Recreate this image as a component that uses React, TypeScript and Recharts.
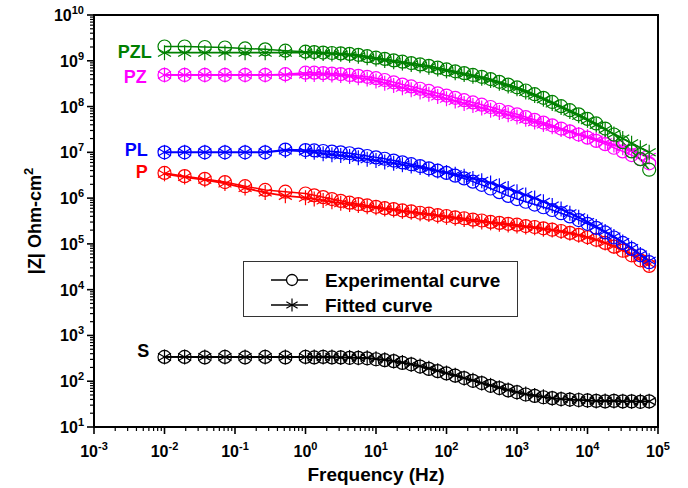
import { ComposedChart, Line, XAxis, YAxis, ReferenceArea, ReferenceDot, Legend } from 'recharts';

const FONT = '"Liberation Sans", Arial, Helvetica, sans-serif';

// measured frequencies (Hz)
const freq = [
  0.01, 0.0193, 0.0373, 0.072, 0.139, 0.268, 0.518,
  1, 1.33, 1.78, 2.37, 3.16, 4.22, 5.62, 7.5,
  10, 13.3, 17.8, 23.7, 31.6, 42.2, 56.2, 75,
  100, 133, 178, 237, 316, 422, 562, 750,
  1000, 1330, 1780, 2370, 3160, 4220, 5620, 7500,
  10000, 13300, 17800, 23700, 31600, 42200, 56200, 75000,
];

// |Z| (Ohm-cm2), experimental (circles) and fitted (asterisks)
const pzlExp = [
  2.05e9, 2.05e9, 2.0e9, 1.95e9, 1.86e9, 1.78e9, 1.66e9,
  1.58e9, 1.55e9, 1.51e9, 1.48e9, 1.45e9, 1.41e9, 1.35e9, 1.26e9,
  1.17e9, 1.1e9, 1.02e9, 9.55e8, 8.91e8, 8.32e8, 7.76e8, 7.08e8,
  6.46e8, 5.89e8, 5.37e8, 4.9e8, 4.47e8, 3.98e8, 3.47e8, 3.02e8,
  2.63e8, 2.24e8, 1.86e8, 1.55e8, 1.26e8, 1.02e8, 8.32e7, 6.76e7,
  5.37e7, 4.27e7, 3.31e7, 2.45e7, 1.66e7, 1.05e7, 7.08e6, 4.17e6,
];
const pzlFit = [
  1.5e9, 1.5e9, 1.5e9, 1.5e9, 1.5e9, 1.5e9, 1.5e9,
  1.5e9, 1.48e9, 1.45e9, 1.41e9, 1.38e9, 1.32e9, 1.26e9, 1.17e9,
  1.1e9, 1.02e9, 9.55e8, 8.91e8, 8.32e8, 7.76e8, 7.24e8, 6.61e8,
  6.03e8, 5.5e8, 5.01e8, 4.57e8, 4.17e8, 3.72e8, 3.24e8, 2.82e8,
  2.45e8, 2.09e8, 1.74e8, 1.45e8, 1.17e8, 9.55e7, 7.76e7, 6.31e7,
  5.01e7, 3.98e7, 3.16e7, 2.51e7, 2.0e7, 1.58e7, 1.26e7, 1.0e7,
];
const pzExp = [
  4.9e8, 4.9e8, 4.9e8, 4.9e8, 4.9e8, 4.9e8, 5.1e8,
  5.5e8, 5.5e8, 5.37e8, 5.25e8, 5.13e8, 4.9e8, 4.68e8, 4.47e8,
  4.17e8, 3.8e8, 3.39e8, 3.02e8, 2.75e8, 2.45e8, 2.19e8, 1.95e8,
  1.74e8, 1.55e8, 1.38e8, 1.23e8, 1.1e8, 9.77e7, 8.51e7, 7.59e7,
  6.76e7, 5.89e7, 5.13e7, 4.47e7, 3.89e7, 3.31e7, 2.88e7, 2.45e7,
  2.09e7, 1.78e7, 1.51e7, 1.26e7, 1.05e7, 8.71e6, 7.08e6, 5.75e6,
];
const pzFit = [
  4.9e8, 4.9e8, 4.9e8, 4.9e8, 4.9e8, 4.9e8, 4.9e8,
  5.01e8, 5.01e8, 5.01e8, 4.9e8, 4.79e8, 4.57e8, 4.27e8, 3.98e8,
  3.63e8, 3.24e8, 2.88e8, 2.57e8, 2.34e8, 2.09e8, 1.86e8, 1.66e8,
  1.48e8, 1.32e8, 1.17e8, 1.05e8, 9.33e7, 8.32e7, 7.41e7, 6.61e7,
  5.89e7, 5.25e7, 4.57e7, 4.07e7, 3.63e7, 3.16e7, 2.82e7, 2.45e7,
  2.19e7, 1.91e7, 1.66e7, 1.45e7, 1.26e7, 1.1e7, 9.33e6, 7.94e6,
];
const plExp = [
  1.0e7, 1.0e7, 1.0e7, 1.0e7, 1.0e7, 1.0e7, 1.15e7,
  1.12e7, 1.1e7, 1.07e7, 1.04e7, 1.0e7, 9.55e6, 8.91e6, 8.32e6,
  7.76e6, 7.24e6, 6.61e6, 6.03e6, 5.5e6, 5.01e6, 4.47e6, 3.98e6,
  3.55e6, 3.09e6, 2.69e6, 2.29e6, 1.95e6, 1.62e6, 1.35e6, 1.12e6,
  9.55e5, 8.32e5, 7.24e5, 6.31e5, 5.5e5, 4.68e5, 3.98e5, 3.31e5,
  2.75e5, 2.24e5, 1.78e5, 1.38e5, 1.05e5, 7.76e4, 5.62e4, 3.98e4,
];
const plFit = [
  1.0e7, 1.0e7, 1.0e7, 1.0e7, 1.0e7, 1.0e7, 1.1e7,
  1.05e7, 1.0e7, 9.33e6, 8.91e6, 8.51e6, 8.13e6, 7.59e6, 7.08e6,
  6.61e6, 6.17e6, 5.75e6, 5.37e6, 5.01e6, 4.68e6, 4.27e6, 3.89e6,
  3.63e6, 3.31e6, 3.02e6, 2.69e6, 2.4e6, 2.14e6, 1.86e6, 1.62e6,
  1.38e6, 1.17e6, 1.0e6, 8.32e5, 6.92e5, 5.75e5, 4.68e5, 3.8e5,
  3.02e5, 2.4e5, 1.86e5, 1.45e5, 1.1e5, 8.13e4, 5.89e4, 4.27e4,
];
const pExp = [
  3.55e6, 3.02e6, 2.63e6, 2.24e6, 1.82e6, 1.51e6, 1.38e6,
  1.26e6, 1.15e6, 1.05e6, 9.55e5, 8.71e5, 7.94e5, 7.41e5, 6.92e5,
  6.46e5, 6.03e5, 5.75e5, 5.37e5, 5.13e5, 4.79e5, 4.57e5, 4.27e5,
  4.07e5, 3.8e5, 3.63e5, 3.39e5, 3.24e5, 3.02e5, 2.88e5, 2.75e5,
  2.63e5, 2.45e5, 2.34e5, 2.19e5, 2.04e5, 1.91e5, 1.74e5, 1.58e5,
  1.41e5, 1.23e5, 1.05e5, 8.71e4, 7.08e4, 5.62e4, 4.37e4, 3.31e4,
];
const pFit = [
  3.39e6, 2.88e6, 2.51e6, 2.09e6, 1.66e6, 1.32e6, 1.12e6,
  1.02e6, 9.55e5, 8.91e5, 8.32e5, 7.76e5, 7.24e5, 6.92e5, 6.46e5,
  6.17e5, 5.75e5, 5.5e5, 5.13e5, 4.9e5, 4.57e5, 4.37e5, 4.07e5,
  3.8e5, 3.63e5, 3.39e5, 3.16e5, 3.02e5, 2.88e5, 2.69e5, 2.57e5,
  2.45e5, 2.34e5, 2.24e5, 2.09e5, 2.0e5, 1.86e5, 1.7e5, 1.55e5,
  1.38e5, 1.23e5, 1.05e5, 8.91e4, 7.41e4, 6.03e4, 4.79e4, 3.63e4,
];
const sExp = [
  339, 339, 331, 339, 331, 339, 331,
  339, 331, 339, 331, 331, 324, 324, 316,
  302, 288, 275, 251, 234, 209, 186, 166,
  148, 132, 117, 102, 91.2, 79.4, 71, 63.1,
  57.5, 51.3, 47.9, 44.7, 42.7, 40.7, 39.8, 38.9,
  38, 37.2, 36.3, 37.2, 36.3, 36.3, 35.5, 36.3,
];
const sFit = [
  339, 339, 339, 339, 339, 339, 339,
  339, 339, 339, 339, 331, 331, 324, 324,
  309, 295, 275, 257, 234, 214, 191, 170,
  151, 135, 117, 105, 91.2, 81.3, 72.4, 64.6,
  57.5, 52.5, 49, 45.7, 42.7, 40.7, 39.8, 38.9,
  38, 37.2, 37.2, 37.2, 36.3, 36.3, 36.3, 36.3,
];

const series = [
  { name: 'S', color: '#000000', exp: sExp, fit: sFit },
  { name: 'P', color: '#ff0000', exp: pExp, fit: pFit },
  { name: 'PL', color: '#0000ff', exp: plExp, fit: plFit },
  { name: 'PZ', color: '#ff00ff', exp: pzExp, fit: pzFit },
  { name: 'PZL', color: '#008000', exp: pzlExp, fit: pzlFit },
];

// where the sample names sit (right end of text), in data units
const nameSpots = [
  { name: 'PZL', f: 0.0066, z: 1.55e9 },
  { name: 'PZ', f: 0.0056, z: 4.6e8 },
  { name: 'PL', f: 0.0058, z: 1.17e7 },
  { name: 'P', f: 0.0058, z: 3.7e6 },
  { name: 'S', f: 0.0061, z: 4.6e2 },
];

const xMajor = [0.001, 0.01, 0.1, 1, 10, 100, 1000, 10000, 100000];
const xPowers = ['-3', '-2', '-1', '0', '1', '2', '3', '4', '5'];
const yMajor = [1e1, 1e2, 1e3, 1e4, 1e5, 1e6, 1e7, 1e8, 1e9, 1e10];
const yPowers = ['1', '2', '3', '4', '5', '6', '7', '8', '9', '10'];
const minorSteps = [2, 3, 4, 5, 6, 7, 8, 9];

const withMinors = (majors: number[]) => {
  const out: number[] = [];
  majors.forEach((m, i) => {
    out.push(m);
    if (i < majors.length - 1) minorSteps.forEach((k) => out.push(m * k));
  });
  return out;
};
const xTicks = withMinors(xMajor);
const yTicks = withMinors(yMajor);

const rows = (zs: number[]) => freq.map((f, i) => ({ f, z: zs[i] }));

const ringDot = (color: string) => (p: any) => (
  <circle key={`c-${p.index}`} cx={p.cx} cy={p.cy} r={6.5} fill="none" stroke={color} strokeWidth={1.2} />
);

const Star = ({ cx, cy, r, color }: any) => {
  const a = r * Math.cos(Math.PI / 6);
  const b = r * 0.5;
  return (
    <g stroke={color} strokeWidth={1.2}>
      <line x1={cx} y1={cy - r} x2={cx} y2={cy + r} />
      <line x1={cx - a} y1={cy - b} x2={cx + a} y2={cy + b} />
      <line x1={cx - a} y1={cy + b} x2={cx + a} y2={cy - b} />
    </g>
  );
};

const starDot = (color: string) => (p: any) => <Star key={`s-${p.index}`} cx={p.cx} cy={p.cy} r={7.5} color={color} />;

const renderXTick = ({ x, y, payload }: any) => {
  const i = xMajor.indexOf(payload.value);
  const major = i >= 0;
  return (
    <g>
      <line x1={x} y1={y} x2={x} y2={y + (major ? 7 : 4)} stroke="#000" strokeWidth={major ? 1.6 : 1.2} />
      {major && (
        <text x={x} y={y + 30} textAnchor="middle" fontFamily={FONT} fontWeight="bold" fontSize={16} fill="#000">
          10<tspan dy={-7} fontSize={11}>{xPowers[i]}</tspan>
        </text>
      )}
    </g>
  );
};

const renderYTick = ({ x, y, payload }: any) => {
  const i = yMajor.indexOf(payload.value);
  const major = i >= 0;
  return (
    <g>
      <line x1={x} y1={y} x2={x - (major ? 7 : 4)} y2={y} stroke="#000" strokeWidth={major ? 1.6 : 1.2} />
      {major && (
        <text x={x - 10} y={y + 6} textAnchor="end" fontFamily={FONT} fontWeight="bold" fontSize={16} fill="#000">
          10<tspan dy={-7} fontSize={11}>{yPowers[i]}</tspan>
        </text>
      )}
    </g>
  );
};

const xTitle = (props: any) => {
  const vb = props.viewBox || { x: 94, y: 427, width: 564, height: 61 };
  return (
    <text x={vb.x + vb.width / 2} y={vb.y + 54} textAnchor="middle" fontFamily={FONT} fontWeight="bold" fontSize={19} fill="#000">
      Frequency (Hz)
    </text>
  );
};

const yTitle = (props: any) => {
  const vb = props.viewBox || { x: 0, y: 15, width: 94, height: 412 };
  const cx = vb.x + 41;
  const cy = vb.y + vb.height / 2;
  return (
    <text x={cx} y={cy} transform={`rotate(-90, ${cx}, ${cy})`} textAnchor="middle" fontFamily={FONT} fontWeight="bold" fontSize={18} fill="#000">
      |Z| Ohm-cm<tspan dy={-8} fontSize={13}>2</tspan>
    </text>
  );
};

const renderLegend = () => (
  <svg width={275} height={56} style={{ display: 'block' }}>
    <rect x={0.5} y={0.5} width={274} height={55} fill="#fff" stroke="#333" strokeWidth={1} />
    <line x1={28} y1={19} x2={65} y2={19} stroke="#000" strokeWidth={1.5} />
    <circle cx={49} cy={19} r={5.5} fill="#fff" stroke="#000" strokeWidth={1.3} />
    <text x={82} y={26} fontFamily={FONT} fontWeight="bold" fontSize={19} fill="#000">Experimental curve</text>
    <line x1={28} y1={44} x2={65} y2={44} stroke="#000" strokeWidth={1.5} />
    <Star cx={49} cy={44} r={6.5} color="#000" />
    <text x={82} y={51} fontFamily={FONT} fontWeight="bold" fontSize={19} fill="#000">Fitted curve</text>
  </svg>
);

export default function App() {
  return (
    <div style={{ position: 'absolute', left: 0, top: 0, width: 688, height: 488, background: '#fff' }}>
      <ComposedChart width={688} height={488} margin={{ top: 15, right: 30, bottom: 0, left: 0 }}>
        <XAxis
          dataKey="f"
          type="number"
          scale="log"
          domain={[1e-3, 1e5]}
          allowDataOverflow
          ticks={xTicks}
          interval={0}
          tickSize={0}
          tickMargin={0}
          axisLine={false}
          tickLine={false}
          tick={renderXTick}
          height={61}
          label={xTitle}
        />
        <YAxis
          dataKey="z"
          type="number"
          scale="log"
          domain={[10, 1e10]}
          allowDataOverflow
          ticks={yTicks}
          interval={0}
          tickSize={0}
          tickMargin={0}
          axisLine={false}
          tickLine={false}
          tick={renderYTick}
          width={94}
          label={yTitle}
        />

        {series.flatMap((s) => [
          <Line
            key={`${s.name}-exp`}
            data={rows(s.exp)}
            dataKey="z"
            type="linear"
            stroke={s.color}
            strokeWidth={1.5}
            dot={ringDot(s.color)}
            activeDot={false}
            isAnimationActive={false}
          />,
          <Line
            key={`${s.name}-fit`}
            data={rows(s.fit)}
            dataKey="z"
            type="linear"
            stroke={s.color}
            strokeWidth={1.8}
            dot={starDot(s.color)}
            activeDot={false}
            isAnimationActive={false}
          />,
        ])}

        {nameSpots.map((n) => {
          const color = series.find((s) => s.name === n.name)!.color;
          return (
            <ReferenceDot
              key={n.name}
              x={n.f}
              y={n.z}
              r={0}
              fill="none"
              stroke="none"
              label={{ value: n.name, position: 'left', offset: 0, fill: color, fontSize: 18, fontWeight: 'bold', fontFamily: FONT }}
            />
          );
        })}

        <ReferenceArea x1={1e-3} x2={1e5} y1={10} y2={1e10} fill="none" stroke="#000" strokeWidth={2} />

        <Legend
          layout="vertical"
          align="center"
          verticalAlign="middle"
          wrapperStyle={{ left: 243, top: 261, width: 275, height: 56 }}
          content={renderLegend}
        />
      </ComposedChart>
    </div>
  );
}
